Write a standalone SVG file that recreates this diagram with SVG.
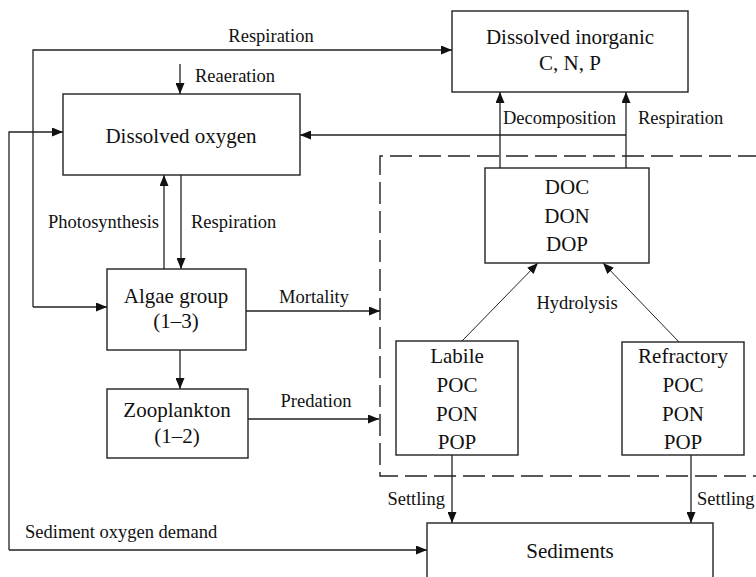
<svg xmlns="http://www.w3.org/2000/svg" width="756" height="577" viewBox="0 0 756 577" font-family="'Liberation Serif', 'DejaVu Serif', 'Times New Roman', serif">
<style>
text{font-family:"Liberation Serif","DejaVu Serif","Times New Roman",serif;fill:#111}
.bt{font-size:21px;text-anchor:middle}
.lb{font-size:18.5px}
.box{fill:#fff;stroke:#222;stroke-width:1.4}
.ln{fill:none;stroke:#222;stroke-width:1.3}
.thin{fill:none;stroke:#222;stroke-width:1}
.dash{fill:none;stroke:#222;stroke-width:1.4;stroke-dasharray:22 7}
</style>
<defs>
<marker id="ah" markerUnits="userSpaceOnUse" markerWidth="11" markerHeight="9" refX="11" refY="4.5" orient="auto">
<path d="M0,0 L11,4.5 L0,9 z" fill="#111"/>
</marker>
</defs>
<g id="dashed-region"><path class="dash" d="M760,156 L380,156 L380,476 L760,476"/></g>
<g id="connectors">
<path class="ln" d="M33,307 L33,50 L452,50" marker-end="url(#ah)"/>
<path class="ln" d="M33,307 L107,307" marker-end="url(#ah)"/>
<path class="ln" d="M180,64 L180,94" marker-end="url(#ah)"/>
<path class="ln" d="M9,550 L9,132 L63,132" marker-end="url(#ah)"/>
<path class="ln" d="M9,550 L427,550" marker-end="url(#ah)"/>
<path class="ln" d="M164,269 L164,175" marker-end="url(#ah)"/>
<path class="ln" d="M181,175 L181,269" marker-end="url(#ah)"/>
<path class="ln" d="M246,311 L380,311" marker-end="url(#ah)"/>
<path class="ln" d="M180,350 L180,389" marker-end="url(#ah)"/>
<path class="ln" d="M248,419 L379,419" marker-end="url(#ah)"/>
<path class="ln" d="M500,168 L500,92" marker-end="url(#ah)"/>
<path class="ln" d="M626,168 L626,92" marker-end="url(#ah)"/>
<path class="ln" d="M626,135 L300,135" marker-end="url(#ah)"/>
<path class="thin" d="M462,341 L538,263" marker-end="url(#ah)"/>
<path class="thin" d="M679,342 L603,263" marker-end="url(#ah)"/>
<path class="ln" d="M452,455 L452,523" marker-end="url(#ah)"/>
<path class="ln" d="M691,455 L691,523" marker-end="url(#ah)"/>
</g>
<g id="labels">
<text class="lb" x="271" y="42" text-anchor="middle">Respiration</text>
<text class="lb" x="195" y="82">Reaeration</text>
<text class="lb" x="159" y="228" text-anchor="end">Photosynthesis</text>
<text class="lb" x="191" y="228">Respiration</text>
<text class="lb" x="314" y="303" text-anchor="middle">Mortality</text>
<text class="lb" x="316" y="407" text-anchor="middle">Predation</text>
<text class="lb" x="503" y="124">Decomposition</text>
<text class="lb" x="638" y="124">Respiration</text>
<text class="lb" x="577" y="309" text-anchor="middle">Hydrolysis</text>
<text class="lb" x="445" y="505" text-anchor="end">Settling</text>
<text class="lb" x="697" y="505">Settling</text>
<text class="lb" x="25" y="538">Sediment oxygen demand</text>
</g>
<g id="dissolved-oxygen"><rect class="box" x="63" y="94" width="237" height="81"/><text class="bt" x="181" y="143">Dissolved oxygen</text></g>
<g id="dissolved-inorganic"><rect class="box" x="452" y="11" width="236" height="81"/><text class="bt" x="570" y="44">Dissolved inorganic</text><text class="bt" x="570" y="70">C, N, P</text></g>
<g id="algae"><rect class="box" x="107" y="269" width="139" height="81"/><text class="bt" x="176" y="303">Algae group</text><text class="bt" x="176" y="328">(1–3)</text></g>
<g id="zooplankton"><rect class="box" x="107" y="389" width="141" height="69"/><text class="bt" x="177" y="417">Zooplankton</text><text class="bt" x="177" y="443">(1–2)</text></g>
<g id="dom"><rect class="box" x="485" y="168" width="164" height="95"/><text class="bt" x="567" y="194">DOC</text><text class="bt" x="567" y="223">DON</text><text class="bt" x="567" y="251">DOP</text></g>
<g id="labile"><rect class="box" x="396" y="341" width="122" height="114"/><text class="bt" x="457" y="363">Labile</text><text class="bt" x="457" y="392">POC</text><text class="bt" x="457" y="421">PON</text><text class="bt" x="457" y="449">POP</text></g>
<g id="refractory"><rect class="box" x="622" y="342" width="122" height="113"/><text class="bt" x="683" y="363">Refractory</text><text class="bt" x="683" y="392">POC</text><text class="bt" x="683" y="421">PON</text><text class="bt" x="683" y="449">POP</text></g>
<g id="sediments"><rect class="box" x="427" y="523" width="286" height="70"/><text class="bt" x="570" y="558">Sediments</text></g>
</svg>
